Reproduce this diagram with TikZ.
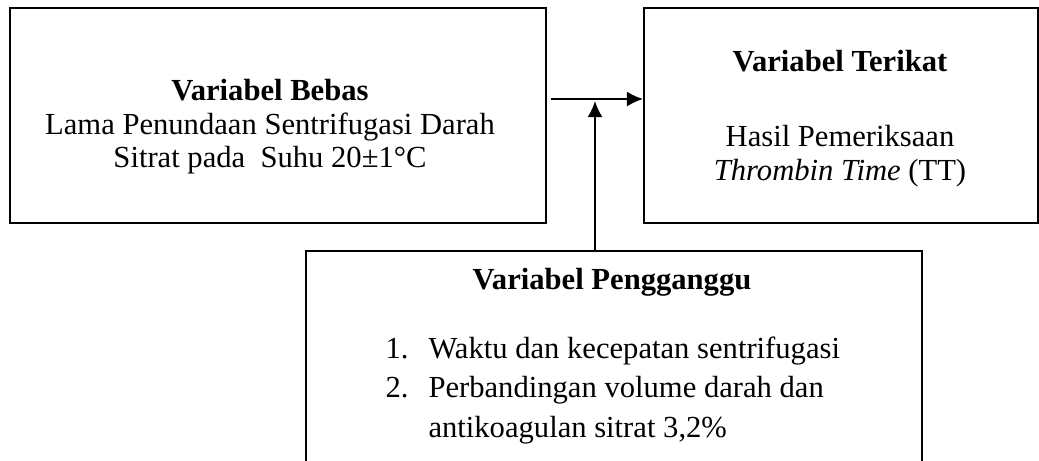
\documentclass[tikz,border=0pt]{standalone}
\usepackage{fontspec}
\setmainfont{Liberation Serif}
\usepackage{tikz}
\usetikzlibrary{positioning}
\usetikzlibrary{arrows.meta}

\begin{document}
\begin{tikzpicture}[
                          x=0.392pt, y=-0.392pt,
                          varbox/.style={rectangle, draw, line width=0.75pt, inner sep=0pt, anchor=north west},
                          boxtext/.style={anchor=base, inner sep=0pt, font=\fontsize{12}{14}\selectfont},
                          listtext/.style={anchor=base west, inner sep=0pt, font=\fontsize{12}{14}\selectfont},
                          arrowline/.style={line width=0.75pt, -{Latex[length=6.3pt, width=5.9pt]}},
                      ]
                      \clip (0,0) rectangle (1039,460);

                      %Boxes
                      \node[varbox, minimum width=210.1pt, minimum height=84.3pt]   (bebas)       at (9,7)     {};
                      \node[varbox, minimum width=154.6pt, minimum height=84.3pt]   (terikat)     at (643,7)   {};
                      \node[varbox, minimum width=241.5pt, minimum height=105.8pt]  (pengganggu)  at (305,250) {};

                      %Texts
                      \node[boxtext]    (bebas_t)     at (270,100)   {\textbf{Variabel Bebas}};
                      \node[boxtext]    (bebas_1)     at (270,134)   {Lama Penundaan Sentrifugasi Darah};
                      \node[boxtext]    (bebas_2)     at (270,167)   {Sitrat pada\ \ Suhu 20±1°C};

                      \node[boxtext]    (terikat_t)   at (840,71)    {\textbf{Variabel Terikat}};
                      \node[boxtext]    (terikat_1)   at (840,146)   {Hasil Pemeriksaan};
                      \node[boxtext]    (terikat_2)   at (840,180)   {\textit{Thrombin Time} (TT)};

                      \node[boxtext]    (ganggu_t)    at (612,289)   {\textbf{Variabel Pengganggu}};
                      \node[listtext]   (num_1)       at (385,358)   {1.};
                      \node[listtext]   (item_1)      at (428,358)   {Waktu dan kecepatan sentrifugasi};
                      \node[listtext]   (num_2)       at (385,397)   {2.};
                      \node[listtext]   (item_2)      at (428,397)   {Perbandingan volume darah dan};
                      \node[listtext]   (item_2b)     at (428,437)   {antikoagulan sitrat 3,2\%};

                      %Lines
                      \coordinate (hstart)   at (551,99);
                      \coordinate (junction) at (595,101);
                      \draw[arrowline] (hstart) -- (hstart -| terikat.west);
                      \draw[arrowline] (junction |- pengganggu.north) -- (junction);
                  \end{tikzpicture}
\end{document}
